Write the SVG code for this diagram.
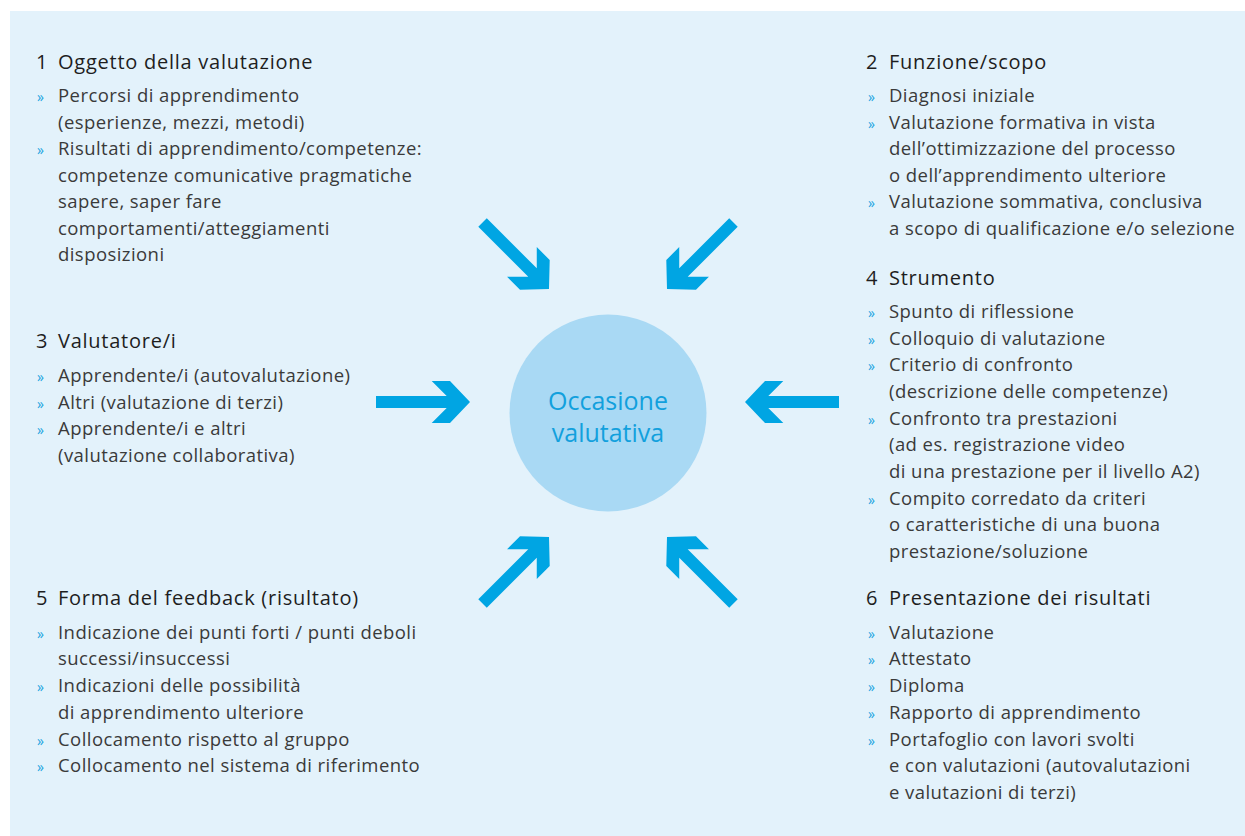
<svg xmlns="http://www.w3.org/2000/svg" width="1245" height="836" viewBox="0 0 1245 836">
<style>
.h{font-family:"Open Sans","Noto Sans",sans-serif;font-size:20px;fill:#1e1e1e;font-weight:500;letter-spacing:0.75px}
.t{font-family:"Open Sans","Noto Sans",sans-serif;font-size:18.5px;fill:#3a3a3a;font-weight:400;letter-spacing:0.44px}
.b{font-family:"Open Sans","Noto Sans",sans-serif;font-size:14px;fill:#1aa3e0}
.c{font-family:"Open Sans","Noto Sans",sans-serif;font-size:25px;fill:#12a0dd;text-anchor:middle}
.arr{fill:#00a5e3}
</style>
<defs>
<path id="arrow" d="M0,0 L-20,-21 L-38.3,-21 L-23.3,-6 L-94,-6 L-94,6 L-23.3,6 L-38.3,21 L-20,21 Z"/>
</defs>
<rect x="10" y="11" width="1235" height="825" fill="#e3f2fb"/>

<g id="connectors" class="arr">
<use href="#arrow" transform="translate(470,402)"/>
<use href="#arrow" transform="translate(745,402) rotate(180)"/>
<use href="#arrow" transform="translate(549,289) rotate(45)"/>
<use href="#arrow" transform="translate(667,289) rotate(135)"/>
<use href="#arrow" transform="translate(549,537) rotate(-45)"/>
<use href="#arrow" transform="translate(667,537) rotate(-135)"/>
</g>

<g id="center">
<circle cx="608" cy="413" r="98.5" fill="#a9d9f4"/>
<text class="c" x="608" y="410">Occasione</text>
<text class="c" x="608" y="442">valutativa</text>
</g>

<g id="n1">
<text class="h" x="36" y="69">1</text><text class="h" x="58" y="69">Oggetto della valutazione</text>
<text class="b" x="37" y="102">»</text><text class="t" x="58" y="102">Percorsi di apprendimento</text>
<text class="t" x="58" y="128.5">(esperienze, mezzi, metodi)</text>
<text class="b" x="37" y="155">»</text><text class="t" x="58" y="155">Risultati di apprendimento/competenze:</text>
<text class="t" x="58" y="181.5">competenze comunicative pragmatiche</text>
<text class="t" x="58" y="208">sapere, saper fare</text>
<text class="t" x="58" y="234.5">comportamenti/atteggiamenti</text>
<text class="t" x="58" y="261">disposizioni</text>
</g>

<g id="n2">
<text class="h" x="866" y="69">2</text><text class="h" x="889" y="69">Funzione/scopo</text>
<text class="b" x="868" y="102">»</text><text class="t" x="889" y="102">Diagnosi iniziale</text>
<text class="b" x="868" y="128.5">»</text><text class="t" x="889" y="128.5">Valutazione formativa in vista</text>
<text class="t" x="889" y="155">dell’ottimizzazione del processo</text>
<text class="t" x="889" y="181.5">o dell’apprendimento ulteriore</text>
<text class="b" x="868" y="208">»</text><text class="t" x="889" y="208">Valutazione sommativa, conclusiva</text>
<text class="t" x="889" y="234.5">a scopo di qualificazione e/o selezione</text>
</g>

<g id="n3">
<text class="h" x="36" y="347.5">3</text><text class="h" x="58" y="347.5">Valutatore/i</text>
<text class="b" x="37" y="382">»</text><text class="t" x="58" y="382">Apprendente/i (autovalutazione)</text>
<text class="b" x="37" y="408.5">»</text><text class="t" x="58" y="408.5">Altri (valutazione di terzi)</text>
<text class="b" x="37" y="435">»</text><text class="t" x="58" y="435">Apprendente/i e altri</text>
<text class="t" x="58" y="461.5">(valutazione collaborativa)</text>
</g>

<g id="n4">
<text class="h" x="866" y="284.5">4</text><text class="h" x="889" y="284.5">Strumento</text>
<text class="b" x="868" y="318">»</text><text class="t" x="889" y="318">Spunto di riflessione</text>
<text class="b" x="868" y="344.5">»</text><text class="t" x="889" y="344.5">Colloquio di valutazione</text>
<text class="b" x="868" y="371">»</text><text class="t" x="889" y="371">Criterio di confronto</text>
<text class="t" x="889" y="397.5">(descrizione delle competenze)</text>
<text class="b" x="868" y="424.5">»</text><text class="t" x="889" y="424.5">Confronto tra prestazioni</text>
<text class="t" x="889" y="451">(ad es. registrazione video</text>
<text class="t" x="889" y="477.5">di una prestazione per il livello A2)</text>
<text class="b" x="868" y="504.5">»</text><text class="t" x="889" y="504.5">Compito corredato da criteri</text>
<text class="t" x="889" y="531">o caratteristiche di una buona</text>
<text class="t" x="889" y="557.5">prestazione/soluzione</text>
</g>

<g id="n5">
<text class="h" x="36" y="605">5</text><text class="h" x="58" y="605">Forma del feedback (risultato)</text>
<text class="b" x="37" y="638.5">»</text><text class="t" x="58" y="638.5">Indicazione dei punti forti / punti deboli</text>
<text class="t" x="58" y="665">successi/insuccessi</text>
<text class="b" x="37" y="692">»</text><text class="t" x="58" y="692">Indicazioni delle possibilità</text>
<text class="t" x="58" y="718.5">di apprendimento ulteriore</text>
<text class="b" x="37" y="745.5">»</text><text class="t" x="58" y="745.5">Collocamento rispetto al gruppo</text>
<text class="b" x="37" y="772">»</text><text class="t" x="58" y="772">Collocamento nel sistema di riferimento</text>
</g>

<g id="n6">
<text class="h" x="866" y="605">6</text><text class="h" x="889" y="605">Presentazione dei risultati</text>
<text class="b" x="868" y="638.5">»</text><text class="t" x="889" y="638.5">Valutazione</text>
<text class="b" x="868" y="665">»</text><text class="t" x="889" y="665">Attestato</text>
<text class="b" x="868" y="692">»</text><text class="t" x="889" y="692">Diploma</text>
<text class="b" x="868" y="718.5">»</text><text class="t" x="889" y="718.5">Rapporto di apprendimento</text>
<text class="b" x="868" y="745.5">»</text><text class="t" x="889" y="745.5">Portafoglio con lavori svolti</text>
<text class="t" x="889" y="772">e con valutazioni (autovalutazioni</text>
<text class="t" x="889" y="798.5">e valutazioni di terzi)</text>
</g>
</svg>
